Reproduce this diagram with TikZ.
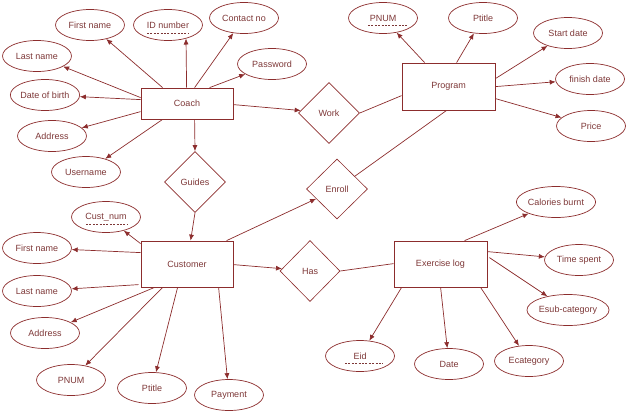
\documentclass[tikz,border=0pt]{standalone}
\usepackage{fontspec}
\setmainfont{Liberation Sans}
\usetikzlibrary{shapes.geometric,arrows.meta,calc}
\definecolor{erline}{RGB}{140,45,45}
\definecolor{ertext}{RGB}{125,55,55}
\begin{document}
\begin{tikzpicture}[x=1pt,y=-1pt,
  every node/.style={font=\fontsize{9}{10}\selectfont, text=ertext},
  ent/.style={draw=erline, line width=0.8pt, rectangle, inner sep=0pt, minimum width=92, minimum height=46},
  rel/.style={draw=erline, line width=0.6pt, diamond, inner sep=0pt, minimum width=61, minimum height=61},
  attr/.style={draw=erline, line width=0.7pt, ellipse, inner sep=0pt, minimum width=69, minimum height=31},
  con/.style={draw=erline, line width=0.7pt},
  arr/.style={con, -{Latex[length=6pt,width=5pt]}},
  keyline/.style={draw=ertext, line width=0.5pt, dash pattern=on 2pt off 1.4pt}
]
\useasboundingbox (0,0) rectangle (628,413);
% entities
\node[ent, minimum height=31] (coach) at (187,103.5) {Coach};
\node[ent, minimum width=93, minimum height=47] (program) at (448.5,86.5) {Program};
\node[ent] (customer) at (187,264) {Customer};
\node[ent, minimum width=93] (exlog) at (440.5,264) {Exercise log};
% relationships
\node[rel] (work) at (329,113) {Work};
\node[rel] (guides) at (195,182) {Guides};
\node[rel, minimum height=60] (enroll) at (337,189) {Enroll};
\node[rel, minimum width=60] (has) at (310,271) {Has};
% coach attributes
\node[attr] (cfn) at (90,25) {First name};
\node[attr] (cid) at (168,25) {ID number};
\node[attr] (ccontact) at (244,18) {Contact no};
\node[attr] (cpass) at (272,64) {Password};
\node[attr] (cln) at (37,56) {Last name};
\node[attr] (cdob) at (45,95) {Date of birth};
\node[attr] (caddr) at (52,136) {Address};
\node[attr] (cuser) at (86,172) {Username};
% program attributes
\node[attr] (ppnum) at (383,18) {PNUM};
\node[attr] (pptitle) at (483,18) {Ptitle};
\node[attr] (pstart) at (568,33) {Start date};
\node[attr] (pfinish) at (590,79) {finish date};
\node[attr] (pprice) at (591,126) {Price};
% customer attributes
\node[attr] (ucnum) at (106,217) {Cust\_num};
\node[attr] (ufn) at (37,248) {First name};
\node[attr] (uln) at (37,291) {Last name};
\node[attr] (uaddr) at (45,333) {Address};
\node[attr] (upnum) at (71,380) {PNUM};
\node[attr] (uptitle) at (152,388) {Ptitle};
\node[attr] (upay) at (229,395) {Payment};
% exercise attributes
\node[attr] (ecal) at (556,202) {Calories burnt};
\node[attr] (etime) at (579,260) {Time spent};
\node[attr] (esub) at (568,310) {Esub-category};
\node[attr] (eid) at (360,356) {Eid};
\node[attr] (edate) at (449,364) {Date};
\node[attr] (ecat) at (529,361) {Ecategory};
% key underlines
\draw[keyline] ($(cid.center)+(-21,8)$) -- ++(42,0);
\draw[keyline] ($(ppnum.center)+(-15,7)$) -- ++(39,0);
\draw[keyline] ($(ucnum.center)+(-20,7)$) -- ++(41,0);
\draw[keyline] ($(eid.center)+(-15,7)$) -- ++(38,0);
% coach connectors
\draw[arr] ($(coach.north west)+(22,0)$) -- (cfn);
\draw[arr] ($(coach.north west)+(46,0)$) -- ($(cid.center)+(18,13.5)$);
\draw[arr] ($(coach.north west)+(54,0)$) -- (ccontact);
\draw[arr] ($(coach.north west)+(69,0)$) -- (cpass);
\draw[arr] ($(coach.north west)+(0,10)$) -- (cln);
\draw[arr] ($(coach.north west)+(0,12)$) -- (cdob);
\draw[arr] ($(coach.north west)+(0,24)$) -- (caddr);
\draw[arr] ($(coach.south west)+(22,0)$) -- (cuser);
\draw[arr] ($(coach.south west)+(54,0)$) -- (guides.north);
\draw[arr] ($(coach.north east)+(0,17)$) -- (work);
\draw[con] (work.east) -- ($(program.north west)+(0,33)$);
% program connectors
\draw[arr] ($(program.north west)+(23,0)$) -- (ppnum);
\draw[arr] ($(program.north west)+(55,0)$) -- (pptitle);
\draw[arr] ($(program.north east)+(0,16)$) -- (pstart);
\draw[arr] ($(program.north east)+(0,24)$) -- (pfinish);
\draw[arr] ($(program.north east)+(0,36)$) -- (pprice);
\draw[con] (enroll) -- ($(program.south west)+(45,0)$);
% customer connectors
\draw[arr] ($(customer.north west)+(86,0)$) -- (enroll);
\draw[arr] (guides.south) -- ($(customer.north west)+(50,0)$);
\draw[arr] ($(customer.north west)+(0,3)$) -- (ucnum);
\draw[arr] ($(customer.north west)+(0,12)$) -- (ufn);
\draw[arr] ($(customer.north west)+(-2,44)$) -- (uln);
\draw[arr] ($(customer.south west)+(14,0)$) -- (uaddr);
\draw[arr] ($(customer.south west)+(22,0)$) -- (upnum);
\draw[arr] ($(customer.south west)+(37,0)$) -- (uptitle);
\draw[arr] ($(customer.south west)+(78,0)$) -- (upay);
\draw[arr] ($(customer.north east)+(0,24)$) -- (has);
\draw[con] (has.east) -- ($(exlog.north west)+(0,23)$);
% exercise connectors
\draw[arr] ($(exlog.north west)+(71,0)$) -- (ecal);
\draw[arr] ($(exlog.north east)+(0,11)$) -- (etime);
\draw[arr] ($(exlog.north east)+(2,17)$) -- (esub);
\draw[arr] ($(exlog.south west)+(8,0)$) -- (eid);
\draw[arr] ($(exlog.south west)+(47,0)$) -- (edate);
\draw[arr] ($(exlog.south west)+(87,0)$) -- (ecat);
\end{tikzpicture}
\end{document}
